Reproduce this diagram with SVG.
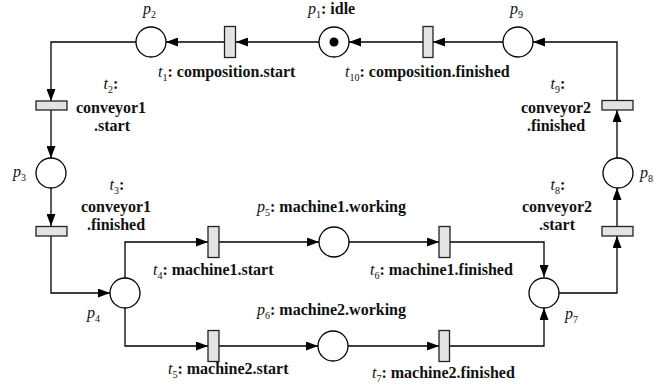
<svg xmlns="http://www.w3.org/2000/svg" width="665" height="390" viewBox="0 0 665 390">
<defs>
<marker id="arr" markerWidth="12" markerHeight="9" refX="12" refY="4.5" orient="auto" markerUnits="userSpaceOnUse">
<path d="M0,0 L12,4.5 L0,9 z" fill="#000"/>
</marker>
<style>
.pl{fill:#fff;stroke:#000;stroke-width:1.3}
.tr{fill:#e3e3e3;stroke:#222;stroke-width:1.3}
.cn{fill:none;stroke:#000;stroke-width:1.3;marker-end:url(#arr)}
text{font-family:"Liberation Serif","Times New Roman",serif;font-size:16px;font-weight:bold;fill:#111}
.it{font-style:italic;font-weight:normal}
.sb{font-size:10px;font-weight:normal}
.c{text-anchor:middle}
</style>
</defs>
<rect width="665" height="390" fill="#fff"/>
<g id="connectors">
<path class="cn" d="M224,42 H166"/>
<path class="cn" d="M319,42 H236"/>
<path class="cn" d="M423,42 H349"/>
<path class="cn" d="M503,42 H433"/>
<path class="cn" d="M617,100 V42 H533"/>
<path class="cn" d="M617,158 V110"/>
<path class="cn" d="M617,226 V188"/>
<path class="cn" d="M559,293 H617 V236"/>
<path class="cn" d="M136,42 H51 V101"/>
<path class="cn" d="M51,110 V158"/>
<path class="cn" d="M51,188 V226"/>
<path class="cn" d="M51,236 V293 H110"/>
<path class="cn" d="M125,278 V242 H208"/>
<path class="cn" d="M219,242 H319"/>
<path class="cn" d="M349,242 H439"/>
<path class="cn" d="M450,242 H544 V277"/>
<path class="cn" d="M125,308 V346 H208"/>
<path class="cn" d="M219,346 H318"/>
<path class="cn" d="M348,346 H439"/>
<path class="cn" d="M450,346 H544 V308"/>
</g>
<g id="p1"><circle class="pl" cx="334" cy="42" r="15"/><circle cx="334" cy="42" r="4.5" fill="#000"/>
<text x="308" y="14"><tspan class="it">p</tspan><tspan class="sb" dy="4">1</tspan><tspan dy="-4">: idle</tspan></text></g>
<g id="p2"><circle class="pl" cx="151" cy="42" r="15"/>
<text x="143" y="14"><tspan class="it">p</tspan><tspan class="sb" dy="4">2</tspan></text></g>
<g id="p3"><circle class="pl" cx="51" cy="173" r="15"/>
<text x="13" y="177"><tspan class="it">p</tspan><tspan class="sb" dy="4">3</tspan></text></g>
<g id="p4"><circle class="pl" cx="125" cy="293" r="15"/>
<text x="87" y="318"><tspan class="it">p</tspan><tspan class="sb" dy="4">4</tspan></text></g>
<g id="p5"><circle class="pl" cx="334" cy="242" r="15"/>
<text x="257" y="212"><tspan class="it">p</tspan><tspan class="sb" dy="4">5</tspan><tspan dy="-4">: machine1.working</tspan></text></g>
<g id="p6"><circle class="pl" cx="333" cy="346" r="15"/>
<text x="257" y="315"><tspan class="it">p</tspan><tspan class="sb" dy="4">6</tspan><tspan dy="-4">: machine2.working</tspan></text></g>
<g id="p7"><circle class="pl" cx="544" cy="293" r="15"/>
<text x="565" y="319"><tspan class="it">p</tspan><tspan class="sb" dy="4">7</tspan></text></g>
<g id="p8"><circle class="pl" cx="618" cy="173" r="15"/>
<text x="640" y="178"><tspan class="it">p</tspan><tspan class="sb" dy="4">8</tspan></text></g>
<g id="p9"><circle class="pl" cx="518" cy="42" r="15"/>
<text x="510" y="14"><tspan class="it">p</tspan><tspan class="sb" dy="4">9</tspan></text></g>
<g id="t1"><rect class="tr" x="224.5" y="26.5" width="11" height="31"/>
<text x="158" y="77"><tspan class="it">t</tspan><tspan class="sb" dy="4">1</tspan><tspan dy="-4">: composition.start</tspan></text></g>
<g id="t10"><rect class="tr" x="423" y="26.5" width="10" height="31"/>
<text x="345" y="77"><tspan class="it">t</tspan><tspan class="sb" dy="4">10</tspan><tspan dy="-4">: composition.finished</tspan></text></g>
<g id="t2"><rect class="tr" x="36" y="101" width="31" height="9"/>
<text class="c" x="111" y="89"><tspan class="it">t</tspan><tspan class="sb" dy="4">2</tspan><tspan dy="-4">:</tspan></text>
<text class="c" x="111" y="113">conveyor1</text><text class="c" x="112" y="131">.start</text></g>
<g id="t3"><rect class="tr" x="36" y="226.5" width="31" height="9.5"/>
<text class="c" x="117" y="190"><tspan class="it">t</tspan><tspan class="sb" dy="4">3</tspan><tspan dy="-4">:</tspan></text>
<text class="c" x="116" y="212">conveyor1</text><text class="c" x="116" y="230">.finished</text></g>
<g id="t4"><rect class="tr" x="208" y="226.5" width="11" height="31"/>
<text x="153" y="275"><tspan class="it">t</tspan><tspan class="sb" dy="4">4</tspan><tspan dy="-4">: machine1.start</tspan></text></g>
<g id="t5"><rect class="tr" x="208" y="330.5" width="11" height="31"/>
<text x="168" y="374"><tspan class="it">t</tspan><tspan class="sb" dy="4">5</tspan><tspan dy="-4">: machine2.start</tspan></text></g>
<g id="t6"><rect class="tr" x="439" y="226.5" width="11" height="31"/>
<text x="370" y="275"><tspan class="it">t</tspan><tspan class="sb" dy="4">6</tspan><tspan dy="-4">: machine1.finished</tspan></text></g>
<g id="t7"><rect class="tr" x="439" y="330.5" width="10.5" height="31"/>
<text x="372" y="378"><tspan class="it">t</tspan><tspan class="sb" dy="4">7</tspan><tspan dy="-4">: machine2.finished</tspan></text></g>
<g id="t8"><rect class="tr" x="602" y="226.5" width="31" height="9.5"/>
<text class="c" x="558" y="190"><tspan class="it">t</tspan><tspan class="sb" dy="4">8</tspan><tspan dy="-4">:</tspan></text>
<text class="c" x="557" y="212">conveyor2</text><text class="c" x="557" y="230">.start</text></g>
<g id="t9"><rect class="tr" x="602" y="100.5" width="31" height="9.5"/>
<text class="c" x="558" y="89"><tspan class="it">t</tspan><tspan class="sb" dy="4">9</tspan><tspan dy="-4">:</tspan></text>
<text class="c" x="556" y="113">conveyor2</text><text class="c" x="556" y="131">.finished</text></g>
</svg>
